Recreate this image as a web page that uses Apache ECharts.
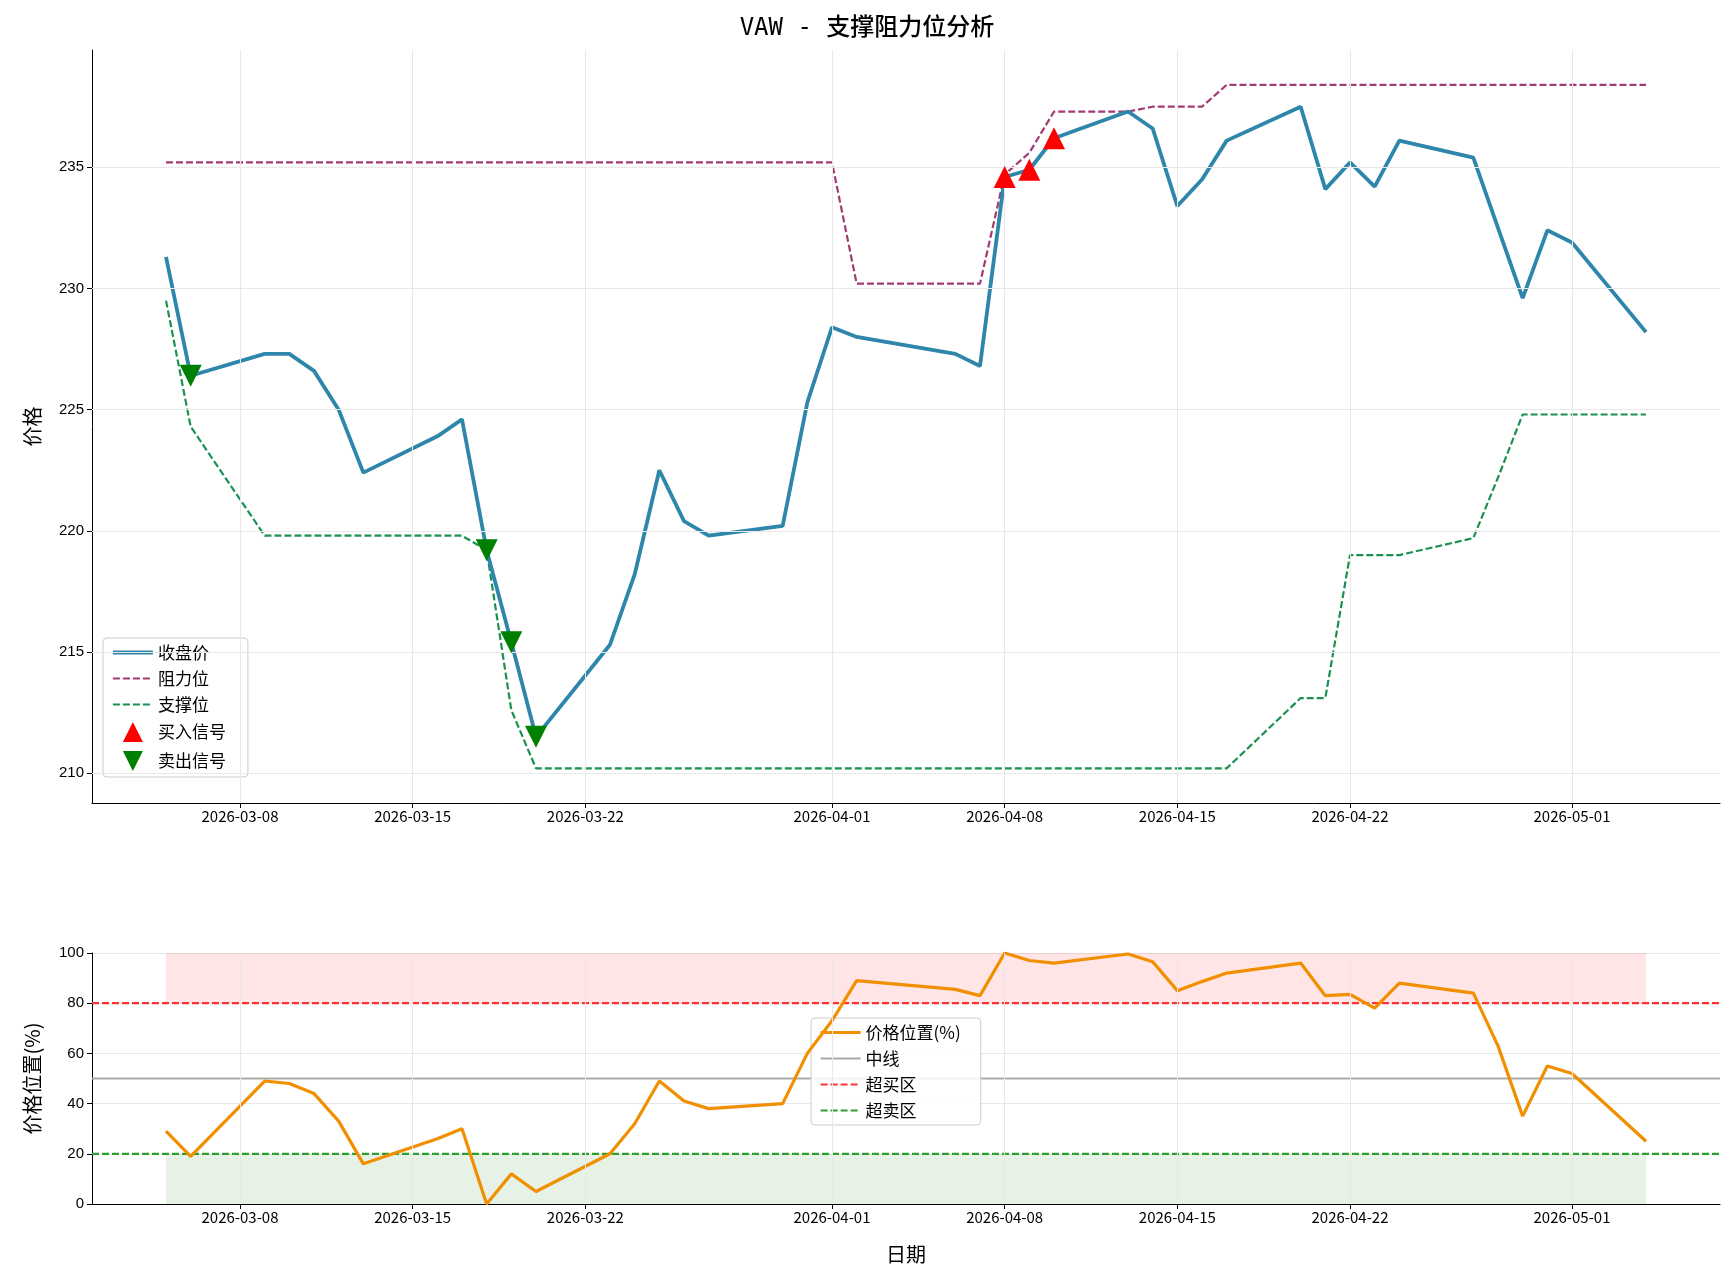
<!DOCTYPE html>
<html><head><meta charset="utf-8">
<script src="https://cdn.jsdelivr.net/npm/echarts@6/dist/echarts.min.js"></script>
<style>body{margin:0}#c{width:1734px;height:1284px}</style></head>
<body><div id="c"></div>
<script>
const dates=['2026-03-05','2026-03-06','2026-03-09','2026-03-10','2026-03-11','2026-03-12','2026-03-13','2026-03-16','2026-03-17','2026-03-18','2026-03-19','2026-03-20','2026-03-23','2026-03-24','2026-03-25','2026-03-26','2026-03-27','2026-03-30','2026-03-31','2026-04-01','2026-04-02','2026-04-06','2026-04-07','2026-04-08','2026-04-09','2026-04-10','2026-04-13','2026-04-14','2026-04-15','2026-04-16','2026-04-17','2026-04-20','2026-04-21','2026-04-22','2026-04-23','2026-04-24','2026-04-27','2026-04-28','2026-04-29','2026-04-30','2026-05-01','2026-05-04'];
const close=[231.3,226.4,227.3,227.3,226.6,225.0,222.4,223.9,224.6,219.2,215.4,211.5,215.3,218.2,222.5,220.4,219.8,220.2,225.3,228.4,228.0,227.3,226.8,234.6,234.9,236.2,237.3,236.6,233.4,234.5,236.1,237.5,234.1,235.2,234.2,236.1,235.4,232.5,229.6,232.4,231.9,228.2];
const resistance=[235.2,235.2,235.2,235.2,235.2,235.2,235.2,235.2,235.2,235.2,235.2,235.2,235.2,235.2,235.2,235.2,235.2,235.2,235.2,235.2,230.2,230.2,230.2,234.7,235.6,237.3,237.3,237.5,237.5,237.5,238.4,238.4,238.4,238.4,238.4,238.4,238.4,238.4,238.4,238.4,238.4,238.4];
const support=[229.5,224.3,219.8,219.8,219.8,219.8,219.8,219.8,219.8,219.2,212.6,210.2,210.2,210.2,210.2,210.2,210.2,210.2,210.2,210.2,210.2,210.2,210.2,210.2,210.2,210.2,210.2,210.2,210.2,210.2,210.2,213.1,213.1,219.0,219.0,219.0,219.7,222.2,224.8,224.8,224.8,224.8];
const position=[29,19,49,48,44,33,16,26,30,0,12,5,20,32,49,41,38,40,60,73,89,85.5,83,100,97,96,99.6,96.5,85,88.6,92,96,83,83.5,78,88,84,63,35,55,52,25];
const buyDates=['2026-04-08','2026-04-09','2026-04-10'];
const buyPrices=[234.6,234.9,236.2];
const sellDates=['2026-03-06','2026-03-18','2026-03-19','2026-03-20'];
const sellPrices=[226.4,219.2,215.4,211.5];
const tickDates=['2026-03-08','2026-03-15','2026-03-22','2026-04-01','2026-04-08','2026-04-15','2026-04-22','2026-05-01'];
const priceTicks=[210,215,220,225,230,235];
const base=Date.UTC(2026,2,2);
const d=s=>Math.round((Date.parse(s+'T00:00:00Z')-base)/86400000);
const tickIdx=tickDates.map(d);
const z=(b)=>b.map((v,i)=>[d(dates[i]),v]);
const F='"Noto Sans CJK SC","DejaVu Sans",sans-serif';
const G='#e8e8e8';
function xAx(gi){return {type:'value',gridIndex:gi,min:0,max:66,
 axisLine:{lineStyle:{color:'#000'}},axisTick:{show:true,customValues:tickIdx,lineStyle:{color:'#000'}},splitLine:{show:false},
 axisLabel:{fontSize:15,color:'#000',fontFamily:F,margin:6,customValues:tickIdx,formatter:v=>{const i=tickIdx.indexOf(v);return i>=0?tickDates[i]:'';}},
 name:gi==1?'日期':'',nameLocation:'middle',nameGap:40,nameTextStyle:{fontSize:20,color:'#000',fontFamily:F}};}
const vlines={silent:true,symbol:'none',label:{show:false},lineStyle:{color:G,type:'solid',width:1},data:tickIdx.map(v=>({xAxis:v}))};
const hlines={silent:true,symbol:'none',label:{show:false},lineStyle:{color:G,type:'solid',width:1},data:priceTicks.map(v=>({yAxis:v})).concat(tickIdx.map(v=>({xAxis:v})))};
const first=d(dates[0]),last=d(dates[dates.length-1]);
const lineItem=(n,c,w,t)=>({name:n,itemStyle:{opacity:0},lineStyle:{color:c,width:w,type:t,opacity:1}});
const opt={animation:false,
 title:{text:'VAW - 支撑阻力位分析',left:'center',top:12,textStyle:{fontSize:24,fontWeight:500,color:'#000',fontFamily:'"DejaVu Sans Mono",'+F}},
 grid:[{left:92,right:14,top:50,height:753},{left:92,right:14,top:953,height:251}],
 xAxis:[xAx(0),xAx(1)],
 yAxis:[{type:'value',gridIndex:0,min:208.77,max:239.84,
   axisLabel:{fontSize:15,color:'#000',customValues:priceTicks},
   axisLine:{show:true,lineStyle:{color:'#000'}},axisTick:{show:true,customValues:priceTicks,lineStyle:{color:'#000'}},
   splitLine:{show:false},name:'价格',nameLocation:'middle',nameGap:50,nameTextStyle:{fontSize:20,color:'#000',fontFamily:F}},
  {type:'value',gridIndex:1,min:0,max:100,interval:20,axisLabel:{fontSize:15,color:'#000'},
   axisLine:{show:true,lineStyle:{color:'#000'}},axisTick:{show:true,lineStyle:{color:'#000'}},
   splitLine:{lineStyle:{color:G}},name:'价格位置(%)',nameLocation:'middle',nameGap:50,nameTextStyle:{fontSize:20,color:'#000',fontFamily:F}}],
 legend:[{data:[lineItem('收盘价','#2E86AB',3.8,'solid'),lineItem('阻力位','#A23B72',2.2,[7,3]),lineItem('支撑位','#1a9150',2.2,[7,3]),{name:'买入信号',icon:'path://M5,0L10,10L0,10Z'},{name:'卖出信号',icon:'path://M0,0L10,0L5,10Z'}],
   orient:'vertical',left:103,top:638,itemGap:9,itemWidth:40,itemHeight:20,
   textStyle:{fontSize:17,fontFamily:F,color:'#000'},borderColor:'#ccc',borderWidth:1,borderRadius:4,padding:[6,22,6,8],backgroundColor:'#fff'},
  {data:[lineItem('价格位置(%)','#F18F01',3.2,'solid'),lineItem('中线','#aaaaaa',2.2,'solid'),lineItem('超买区','#ff3333',2.2,[7,3]),lineItem('超卖区','#2e9e2e',2.2,[7,3])],orient:'vertical',left:811,top:1018,itemGap:9,itemWidth:40,itemHeight:20,
   textStyle:{fontSize:17,fontFamily:F,color:'#000'},borderColor:'#ccc',borderWidth:1,borderRadius:4,padding:[6,20,6,8],backgroundColor:'rgba(255,255,255,0.85)'}],
 series:[
  {name:'收盘价',type:'line',data:z(close),symbol:'none',lineStyle:{color:'#2E86AB',width:3.8},itemStyle:{color:'#2E86AB'},z:3,markLine:hlines},
  {name:'阻力位',type:'line',data:z(resistance),symbol:'none',lineStyle:{color:'#A23B72',width:2.2,type:[7,3]},itemStyle:{color:'#A23B72'},z:2},
  {name:'支撑位',type:'line',data:z(support),symbol:'none',lineStyle:{color:'#1a9150',width:2.2,type:[7,3]},itemStyle:{color:'#1a9150'},z:2},
  {name:'买入信号',type:'scatter',data:buyDates.map((s,i)=>[d(s),buyPrices[i]]),symbol:'triangle',symbolSize:22,itemStyle:{color:'#ff0000',opacity:1},z:5},
  {name:'卖出信号',type:'scatter',data:sellDates.map((s,i)=>[d(s),sellPrices[i]]),symbol:'triangle',symbolRotate:180,symbolSize:22,itemStyle:{color:'#008000',opacity:1},z:5},
  {name:'价格位置(%)',type:'line',xAxisIndex:1,yAxisIndex:1,data:z(position),symbol:'none',lineStyle:{color:'#F18F01',width:3.2},itemStyle:{color:'#F18F01'},z:4,
   markLine:vlines,
   markArea:{silent:true,data:[[{xAxis:first,yAxis:80,itemStyle:{color:'rgba(255,0,0,0.1)'}},{xAxis:last,yAxis:100}],[{xAxis:first,yAxis:0,itemStyle:{color:'rgba(0,128,0,0.1)'}},{xAxis:last,yAxis:20}]]}},
  {name:'中线',type:'line',xAxisIndex:1,yAxisIndex:1,data:[[0,50],[66,50]],symbol:'none',lineStyle:{color:'#aaaaaa',width:2.2},itemStyle:{color:'#aaaaaa'},z:3},
  {name:'超买区',type:'line',xAxisIndex:1,yAxisIndex:1,data:[[0,80],[66,80]],symbol:'none',lineStyle:{color:'#ff3333',width:2.2,type:[7,3]},itemStyle:{color:'#ff3333'},z:3},
  {name:'超卖区',type:'line',xAxisIndex:1,yAxisIndex:1,data:[[0,20],[66,20]],symbol:'none',lineStyle:{color:'#2e9e2e',width:2.2,type:[7,3]},itemStyle:{color:'#2e9e2e'},z:3}
 ]};
echarts.init(document.getElementById('c')).setOption(opt);
</script></body></html>
